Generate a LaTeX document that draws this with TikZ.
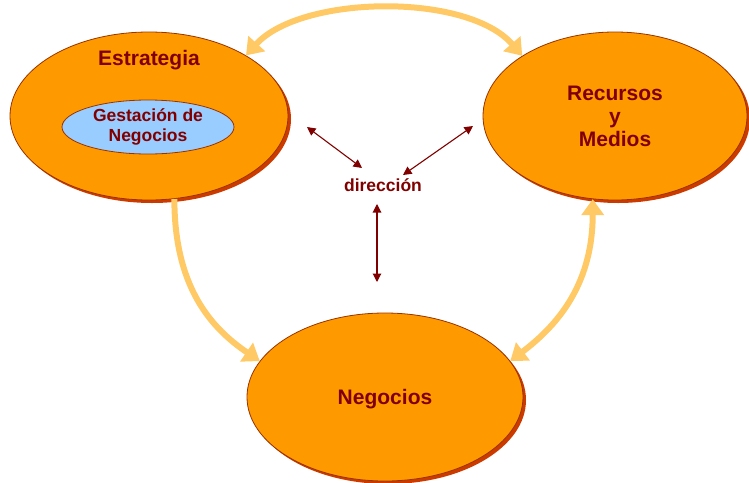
\documentclass[tikz,border=0pt]{standalone}
\usepackage{fontspec}
\setmainfont{Liberation Sans}
\usetikzlibrary{shapes.geometric,arrows.meta,calc}
\definecolor{fillorange}{HTML}{FF9900}
\definecolor{rimred}{HTML}{993300}
\definecolor{shadowred}{HTML}{CC3A00}
\definecolor{txtred}{HTML}{800000}
\definecolor{linkorange}{HTML}{FFC966}
\definecolor{innerblue}{HTML}{99CCFF}
\begin{document}
\begin{tikzpicture}[x=1pt,y=-1pt,
  blob/.style={ellipse, draw=rimred, line width=0.8pt, fill=fillorange, inner sep=0pt},
  blobshadow/.style={ellipse, fill=shadowred, inner sep=0pt},
  title/.style={text=txtred, font=\bfseries\fontsize{21}{23}\selectfont, align=center},
  subtitle/.style={text=txtred, font=\bfseries\fontsize{17.5}{20}\selectfont, align=center},
  link/.style={draw=linkorange, line width=6pt},
  linkhead/.style={-{Triangle[length=16pt,width=22pt]}},
  linkboth/.style={{Triangle[length=16pt,width=22pt]}-{Triangle[length=16pt,width=22pt]}},
  darr/.style={draw=txtred, line width=1.1pt, {Triangle[length=8.5pt,width=8.5pt]}-{Triangle[length=8.5pt,width=8.5pt]}}
]
\useasboundingbox (0,0) rectangle (749,482);

% shadows under the three main ellipses
\node[blobshadow, minimum width=278pt, minimum height=168pt] (estrsh) at (152,119) {};
\node[blobshadow, minimum width=264pt, minimum height=168pt] (recsh) at (618,119) {};
\node[blobshadow, minimum width=276pt, minimum height=168pt] (negsh) at (388,400) {};

% main ellipses
\node[blob, minimum width=278pt, minimum height=168pt] (estr) at (149,116) {};
\node[blob, minimum width=264pt, minimum height=168pt, title] (rec) at (615,116) {Recursos\\y\\Medios};
\node[blob, minimum width=276pt, minimum height=168pt] (neg) at (385,397) {};

% labels
\node[title, anchor=base] (estrlbl) at (149,65) {Estrategia};
\node[title, anchor=base] (neglbl) at (385,404) {Negocios};
\node[ellipse, draw=rimred, line width=0.8pt, fill=innerblue, inner sep=0pt,
      minimum width=172pt, minimum height=54pt, subtitle] (gest) at (148,127) {Gestación de\\Negocios};
\node[subtitle, anchor=base] (dir) at (383,191) {dirección};

% light orange links between the ellipses
\draw[link, linkboth] (estr.32) .. controls +(55,-60.5) and +(-55,-63.5) .. (rec.147);
\draw[link, linkhead] (estr.-73) .. controls +(0,90) and +(-47,-32) .. (neg.164);
\draw[link, linkboth] (neg.16) .. controls +(42,-32) and +(0,90) .. (rec.-105);

% dark red double arrows around "dirección"
\coordinate (dl1) at (307,127);
\coordinate (dl2) at (362,168);
\coordinate (dr1) at (473,126);
\coordinate (dr2) at (403,175);
\coordinate (dv1) at (377,204);
\coordinate (dv2) at (377,282);
\draw[darr] (dl1) -- (dl2);
\draw[darr] (dr1) -- (dr2);
\draw[darr] (dv1) -- (dv2);
\end{tikzpicture}
\end{document}
